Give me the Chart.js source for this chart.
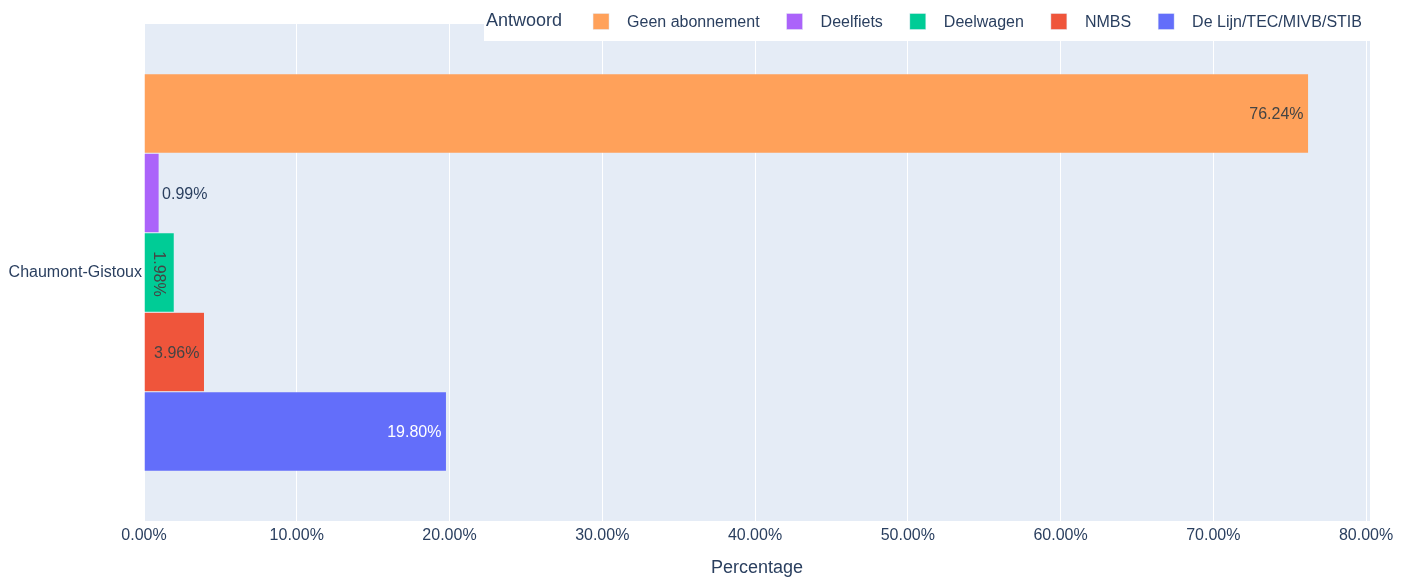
<!DOCTYPE html>
<html>
<head>
<meta charset="utf-8">
<script src="https://cdn.jsdelivr.net/npm/chart.js"></script>
<style>
  html, body { margin: 0; padding: 0; background: #fff; }
  #wrap { width: 1412px; height: 579px; }
</style>
</head>
<body>
<div id="wrap"><canvas id="bar-chart" width="1412" height="579"></canvas></div>
<script>
const categories = ['Chaumont-Gistoux'];
const answers = ['Geen abonnement', 'Deelfiets', 'Deelwagen', 'NMBS', 'De Lijn/TEC/MIVB/STIB'];
const percentages = [76.24, 0.99, 1.98, 3.96, 19.80];
const barColors = ['#FFA15A', '#AB63FA', '#00CC96', '#EF553B', '#636EFA'];
const xMax = 80.26;
const xStep = 10;
const legendTitle = 'Antwoord';
const xTitle = 'Percentage';

const FONT = '"Liberation Sans", Arial, sans-serif';
const INK = '#2a3f5f';
const PLOT_BG = '#E5ECF6';

// plotly-like contrast: light bars get dark text
function isLight(hex) {
	const r = parseInt(hex.slice(1, 3), 16), g = parseInt(hex.slice(3, 5), 16), b = parseInt(hex.slice(5, 7), 16);
	return (r * 299 + g * 587 + b * 114) / 1000 >= 128;
}

const plotBg = {
	id: 'plotBg',
	beforeDraw(chart) {
		const { ctx, chartArea: a } = chart;
		ctx.save();
		ctx.fillStyle = PLOT_BG;
		ctx.fillRect(a.left, a.top, a.right - a.left, a.bottom - a.top);
		ctx.restore();
	}
};

const barLabels = {
	id: 'barLabels',
	afterDatasetsDraw(chart) {
		const ctx = chart.ctx;
		ctx.save();
		ctx.font = '16px ' + FONT;
		ctx.textBaseline = 'middle';
		chart.data.datasets.forEach((ds, di) => {
			const meta = chart.getDatasetMeta(di);
			meta.data.forEach((bar, i) => {
				const v = ds.data[i];
				const txt = v.toFixed(2) + '%';
				const p = bar.getProps(['x', 'y', 'base', 'height'], true);
				const len = p.x - p.base;
				const tw = ctx.measureText(txt).width;
				const pad = 5;
				const cy = p.y + 1.5;
				const inColor = isLight(ds.backgroundColor) ? '#444' : '#fff';
				if (tw + 2 * pad <= len && 18 <= p.height) {
					ctx.fillStyle = inColor;
					ctx.textAlign = 'right';
					ctx.fillText(txt, p.x - pad, cy);
				} else if (tw + 2 * pad <= p.height && 18 <= len) {
					ctx.save();
					ctx.translate(p.base + len / 2 - 1, cy);
					ctx.rotate(Math.PI / 2);
					ctx.fillStyle = inColor;
					ctx.textAlign = 'center';
					ctx.fillText(txt, 0, 0);
					ctx.restore();
				} else {
					ctx.fillStyle = INK;
					ctx.textAlign = 'left';
					ctx.fillText(txt, p.x + 3, cy);
				}
			});
		});
		ctx.restore();
	}
};

const topLegend = {
	id: 'topLegend',
	afterDraw(chart) {
		const ctx = chart.ctx;
		const a = chart.chartArea;
		const x0 = 484;
		ctx.save();
		ctx.fillStyle = '#fff';
		ctx.fillRect(x0, 0, a.right - x0, 41);
		ctx.textBaseline = 'middle';
		ctx.textAlign = 'left';
		ctx.fillStyle = INK;
		ctx.font = '18px ' + FONT;
		ctx.fillText(legendTitle, x0 + 2, 21.5);
		let x = x0 + 2 + ctx.measureText(legendTitle).width + 31;
		ctx.font = '16px ' + FONT;
		chart.data.datasets.forEach(ds => {
			ctx.fillStyle = ds.backgroundColor;
			ctx.fillRect(x, 13.5, 16, 16);
			ctx.strokeStyle = PLOT_BG;
			ctx.lineWidth = 0.5;
			ctx.strokeRect(x, 13.5, 16, 16);
			ctx.fillStyle = INK;
			ctx.fillText(ds.label, x + 34, 22.5);
			x += 34 + ctx.measureText(ds.label).width + 27;
		});
		ctx.restore();
	}
};

const ctx = document.getElementById('bar-chart').getContext('2d');
new Chart(ctx, {
	type: 'bar',
	data: {
		labels: categories,
		datasets: answers.map((name, k) => ({
			label: name,
			data: [percentages[k]],
			backgroundColor: barColors[k],
			borderColor: PLOT_BG,
			borderWidth: 0.5,
			categoryPercentage: 0.8,
			barPercentage: 1
		}))
	},
	options: {
		indexAxis: 'y',
		responsive: false,
		animation: false,
		devicePixelRatio: 1,
		layout: { padding: { top: 24, right: 42, left: 0, bottom: 0 } },
		plugins: {
			legend: { display: false },
			tooltip: { enabled: false }
		},
		scales: {
			x: {
				min: 0,
				max: xMax,
				afterFit(s) { s.height = 58; },
				grid: { color: '#ffffff', lineWidth: 1, drawTicks: false },
				border: { display: false },
				ticks: {
					stepSize: xStep,
					includeBounds: false,
					padding: 5,
					color: INK,
					font: { family: FONT, size: 16 },
					callback: v => v.toFixed(2) + '%'
				},
				title: {
					display: true,
					text: xTitle,
					color: INK,
					font: { family: FONT, size: 18 },
					padding: { top: 0, bottom: 0 }
				}
			},
			y: {
				afterFit(s) { s.width = 144; },
				grid: { display: false, drawTicks: false },
				border: { display: false },
				ticks: {
					padding: 2,
					color: INK,
					font: { family: FONT, size: 16 }
				}
			}
		}
	},
	plugins: [plotBg, barLabels, topLegend]
});
</script>
</body>
</html>
